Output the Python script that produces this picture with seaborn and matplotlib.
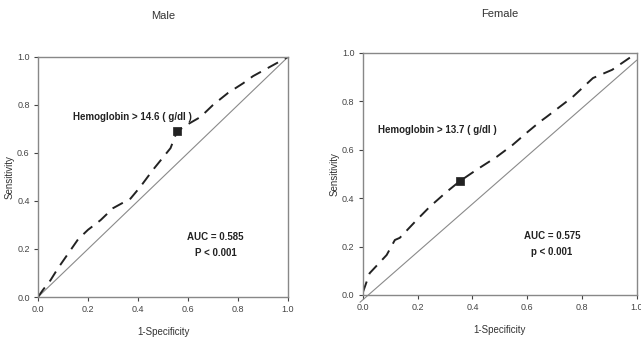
import numpy as np
import pandas as pd
import matplotlib
matplotlib.use("Agg")
import matplotlib.pyplot as plt
import seaborn as sns

# ROC curve points
male_fpr = [0.0, 0.02, 0.05, 0.08, 0.12, 0.16, 0.20, 0.25, 0.30, 0.37, 0.41, 0.46,
            0.53, 0.556, 0.60, 0.65, 0.70, 0.76, 0.82, 0.86, 0.93, 1.0]
male_tpr = [0.0, 0.03, 0.07, 0.12, 0.18, 0.24, 0.28, 0.32, 0.37, 0.41, 0.46, 0.53,
            0.62, 0.69, 0.72, 0.75, 0.80, 0.85, 0.89, 0.92, 0.96, 1.0]
male_cut = (0.556, 0.69)

female_fpr = [0.0, 0.025, 0.087, 0.117, 0.135, 0.197, 0.244, 0.306, 0.354, 0.415,
              0.488, 0.547, 0.598, 0.646, 0.67, 0.766, 0.84, 0.91, 1.0]
female_tpr = [0.01, 0.09, 0.165, 0.227, 0.236, 0.31, 0.364, 0.426, 0.47, 0.517,
              0.57, 0.62, 0.67, 0.715, 0.735, 0.818, 0.896, 0.93, 1.0]
female_cut = (0.354, 0.47)

ticks = [0.0, 0.2, 0.4, 0.6, 0.8, 1.0]
tick_labels = ["0.0", "0.2", "0.4", "0.6", "0.8", "1.0"]

sns.set_style("white")
plt.rcParams["font.family"] = ["Liberation Sans Narrow", "Liberation Sans", "DejaVu Sans"]

fig = plt.figure(figsize=(6.41, 3.41), dpi=100)
ax1 = fig.add_axes([0.0593, 0.129, 0.390, 0.704])
ax2 = fig.add_axes([0.566, 0.135, 0.4275, 0.710])

panels = [
    (ax1, "Male", male_fpr, male_tpr, male_cut, "Hemoglobin > 14.6 ( g/dl )", (0.14, 0.75),
     ["AUC = 0.585", "P < 0.001"], (0.71, 0.25), 0.0, 27, 2),
    (ax2, "Female", female_fpr, female_tpr, female_cut, "Hemoglobin > 13.7 ( g/dl )", (0.055, 0.68),
     ["AUC = 0.575", "p < 0.001"], (0.69, 0.245), -0.02, 26, 2),
]

for ax, title, fpr, tpr, cut, label, lpos, auc, apos, off, tpad, ypad in panels:
    df = pd.DataFrame({"fpr": fpr, "tpr": tpr})
    # reference diagonal (slightly offset on the female panel, as in the source)
    if off:
        ax.plot([off * 0.5, 1], [off * 1.5, 1 + off * 1.5],
                color="#8a8a8a", lw=0.8, clip_on=False, zorder=1)
    else:
        ax.plot([0, 1], [0, 1], color="#8a8a8a", lw=0.8, zorder=1)
    sns.lineplot(data=df, x="fpr", y="tpr", ax=ax, color="#222222", lw=1.4,
                 sort=False, estimator=None, zorder=2)
    ax.lines[-1].set_dashes([6, 4])
    sns.scatterplot(x=[cut[0]], y=[cut[1]], ax=ax, marker="s", s=40, color="#222222",
                    edgecolor="#222222", zorder=3)
    ax.text(lpos[0], lpos[1], label, fontsize=7, fontweight="bold", va="center", ha="left",
            color="#222222")
    ax.text(apos[0], apos[1], auc[0], fontsize=7, fontweight="bold", ha="center", va="center",
            color="#222222")
    ax.text(apos[0], apos[1] - 0.066, auc[1], fontsize=7, fontweight="bold", ha="center",
            va="center", color="#222222")
    ax.set_xlim(0, 1)
    ax.set_ylim(0, 1)
    ax.set_xticks(ticks)
    ax.set_xticklabels(tick_labels)
    ax.set_yticks(ticks)
    ax.set_yticklabels(tick_labels)
    ax.tick_params(axis="both", labelsize=6.5, colors="#444444", length=3, width=0.8,
                   direction="out", bottom=True, left=True, pad=3)
    for s in ax.spines.values():
        s.set_color("#888888")
        s.set_linewidth(1.0)
    ax.set_xlabel("1-Specificity", fontsize=7, color="#333333", labelpad=9)
    ax.set_ylabel("Sensitivity", fontsize=7, color="#333333", labelpad=ypad)
    ax.set_title(title, fontsize=8, color="#333333", pad=tpad)

fig.savefig("out.png", dpi=100)
